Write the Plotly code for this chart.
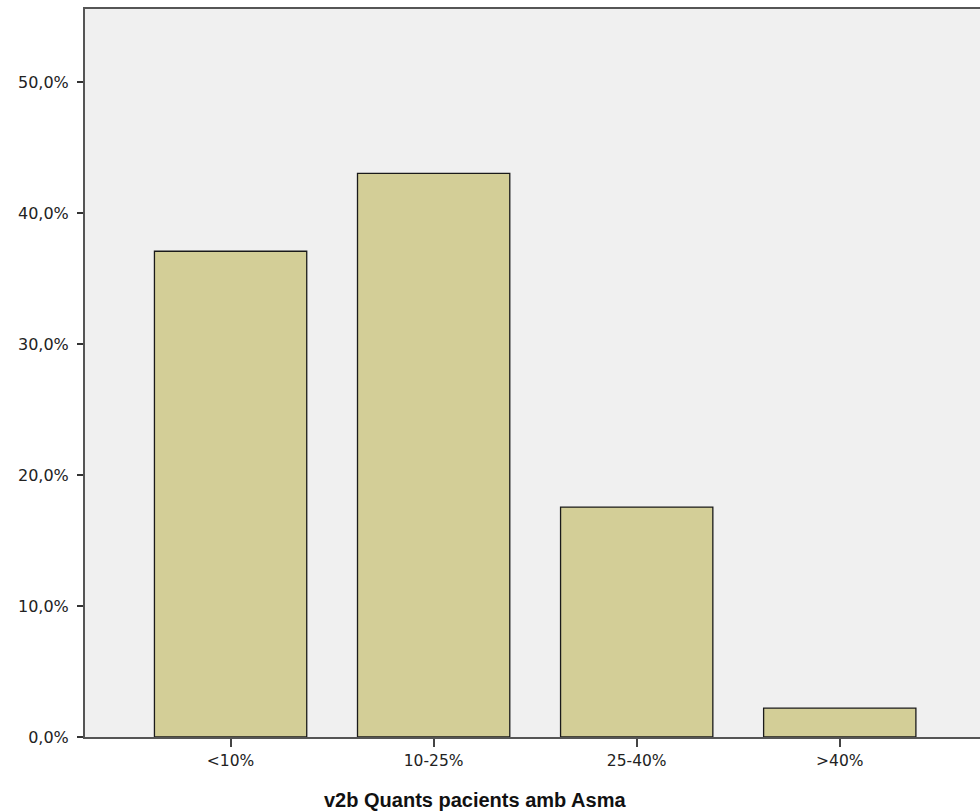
import plotly.graph_objects as go

categories = ["<10%", "10-25%", "25-40%", ">40%"]
percent = [37.1, 43.05, 17.56, 2.2]
y_tick_vals = [0, 10, 20, 30, 40, 50]
y_tick_text = ["0,0%", "10,0%", "20,0%", "30,0%", "40,0%", "50,0%"]
x_title = "v2b Quants pacients amb Asma"

fig = go.Figure()
fig.add_trace(go.Bar(
    x=categories, y=percent, width=0.75,
    marker=dict(color="#D3CE97", line=dict(color="#1a1a1a", width=1.3)),
))

W, H = 1000, 812
L, T, B = 85, 9, 75
plot_w = W - L
plot_h = H - T - B
fig.update_layout(
    width=W, height=H,
    margin=dict(l=L, r=0, t=T, b=B),
    paper_bgcolor="white", plot_bgcolor="#F0F0F0",
    showlegend=False,
    font=dict(family="DejaVu Sans", size=15, color="#222"),
)
fig.update_xaxes(
    type="category", range=[-0.717, -0.717 + plot_w / 203.5],
    showgrid=False, zeroline=False,
    showline=True, linecolor="#555", linewidth=2, mirror=True,
    ticks="outside", ticklen=8, tickcolor="#444", tickwidth=2,
    tickfont=dict(family="DejaVu Sans", size=15.5, color="#222"),
)
fig.update_yaxes(
    range=[0, 55.6],
    tickvals=y_tick_vals, ticktext=y_tick_text,
    showgrid=False, zeroline=False,
    showline=True, linecolor="#555", linewidth=2, mirror=True,
    ticks="outside", ticklen=6, tickcolor="#333", tickwidth=2,
    ticklabelstandoff=5,
    tickfont=dict(family="DejaVu Sans", size=16, color="#222"),
)
fig.add_annotation(
    text="<b>" + x_title + "</b>", xref="paper", yref="paper",
    x=(476 - L) / plot_w, y=-(800 - 737) / plot_h, xanchor="center", yanchor="middle",
    showarrow=False, font=dict(family="Liberation Sans", size=20, color="#111"),
)
fig.write_html(
    "out.html",
    config={"displayModeBar": False},
    post_script="document.body.style.margin='0';document.body.style.overflow='hidden';",
)
